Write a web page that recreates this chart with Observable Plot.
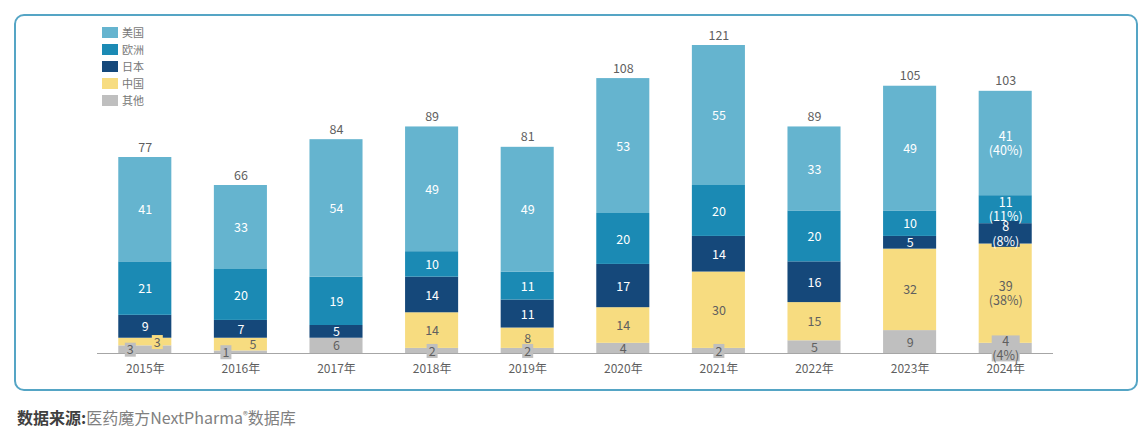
<!DOCTYPE html>
<html><head><meta charset="utf-8">
<script src="https://cdn.jsdelivr.net/npm/d3@7"></script>
<script src="https://cdn.jsdelivr.net/npm/@observablehq/plot@0.6"></script>
<style>
body{margin:0;background:#fff;font-family:"Noto Sans CJK SC","Noto Sans",sans-serif;}
#wrap{position:relative;width:1147px;height:432px;overflow:hidden;}
#frame{position:absolute;left:14px;top:14px;width:1120px;height:373px;border:2px solid #55a5c5;border-radius:10px;box-sizing:content-box;}
#chart{position:absolute;left:0;top:0;}
#legend{position:absolute;left:102px;top:24px;font-size:11px;color:#777;line-height:1;}
.row{height:17.1px;display:flex;align-items:center;}
.sw{width:16px;height:11px;margin-right:4px;flex:none;}
#caption{position:absolute;left:17px;top:405px;font-size:16px;color:#808080;white-space:nowrap;}
#caption b{color:#404040;font-weight:bold;}
#caption .reg{font-size:10px;vertical-align:5px;}
</style></head>
<body>
<div id="wrap">
  <div id="frame"></div>
  <div id="chart"></div>
  <div id="legend"></div>
  <div id="caption"><b>数据来源:</b>医药魔方NextPharma<span class="reg">®</span>数据库</div>
</div>
<script>
const years = ["2015年","2016年","2017年","2018年","2019年","2020年","2021年","2022年","2023年","2024年"];
const us    = [41, 33, 54, 49, 49, 53, 55, 33, 49, 41];
const eu    = [21, 20, 19, 10, 11, 20, 20, 20, 10, 11];
const jp    = [ 9,  7,  5, 14, 11, 17, 14, 16,  5,  8];
const cn    = [ 3,  5,  0, 14,  8, 14, 30, 15, 32, 39];
const other = [ 3,  1,  6,  2,  2,  4,  2,  5,  9,  4];
const totals = [77, 66, 84, 89, 81, 108, 121, 89, 105, 103];
const regions = ["其他","中国","日本","欧洲","美国"]; // bottom to top
const legendOrder = ["美国","欧洲","日本","中国","其他"];

const palette = {"美国":"#65b4cf","欧洲":"#1b8ab4","日本":"#15487a","中国":"#f7dc80","其他":"#bfbfbf"};
const lightText = new Set(["美国","欧洲","日本"]);

const series = {"美国":us,"欧洲":eu,"日本":jp,"中国":cn,"其他":other};
const rows = [];
years.forEach((yr, i) => {
  let acc = 0;
  const last = i === years.length - 1;
  const pairSmall = other[i] <= 3 && cn[i] > 0 && cn[i] <= 5;
  for (const r of regions) {
    const v = series[r][i];
    const pct = Math.round(v / totals[i] * 100);
    const row = {year: yr, region: r, value: v, y1: acc, y2: acc + v, mid: acc + v / 2,
      label: last ? `${v}\n(${pct}%)` : `${v}`, last,
      shift: pairSmall && r === "其他" ? -1 : pairSmall && r === "中国" ? 1 : 0};
    row.boxed = v > 0 && (last ? v < 10 : v <= 3);
    rows.push(row);
    acc += v;
  }
});
const shown = rows.filter(d => d.value > 0);
const totalRows = years.map((y, i) => ({year: y, total: totals[i]}));

const rectSymbol = (w, h) => ({draw(ctx) { ctx.rect(-w / 2, -h / 2, w, h); }});
const smallBox = rectSymbol(11, 14);
const bigBox = rectSymbol(28, 26);

const color = {domain: regions, range: regions.map(r => palette[r])};
const fontSize = 12.5;

const labelMarks = [];
for (const [shift, dx] of [[0, 0], [-1, -15], [1, 12]]) {
  const sub = shown.filter(d => d.shift === shift);
  labelMarks.push(
    Plot.dot(sub.filter(d => d.boxed && !d.last), {x: "year", y: "mid", fill: "region", symbol: smallBox, r: 5, dx, stroke: null}),
    Plot.dot(sub.filter(d => d.boxed && d.last), {x: "year", y: "mid", fill: "region", symbol: bigBox, r: 5, dx, stroke: null}),
    Plot.text(sub.filter(d => lightText.has(d.region)), {x: "year", y: "mid", text: "label", fill: "#ffffff", fontSize, dx, lineHeight: 1.15}),
    Plot.text(sub.filter(d => !lightText.has(d.region)), {x: "year", y: "mid", text: "label", fill: "#5f5f5f", fontSize, dx, lineHeight: 1.15})
  );
}

const chart = Plot.plot({
  width: 1147,
  height: 390,
  marginLeft: 97,
  marginRight: 94,
  marginTop: 45,
  marginBottom: 37,
  style: {fontFamily: '"Noto Sans CJK SC","Noto Sans",sans-serif', background: "transparent"},
  x: {type: "band", domain: years, paddingInner: 0.445, paddingOuter: 0.2225, round: false, label: null},
  y: {domain: [0, 121], axis: null},
  color,
  marks: [
    Plot.barY(rows, {x: "year", y1: "y1", y2: "y2", fill: "region"}),
    Plot.ruleY([0], {stroke: "#a6a6a6", strokeWidth: 1}),
    ...labelMarks,
    Plot.text(totalRows, {x: "year", y: "total", text: d => `${d.total}`, dy: -10, fill: "#5f5f5f", fontSize}),
    Plot.axisX({tickSize: 0, tickPadding: 11, fontSize: 12, color: "#5f5f5f", label: null})
  ]
});
document.getElementById("chart").appendChild(chart);

const legend = document.getElementById("legend");
for (const r of legendOrder) {
  const row = document.createElement("div");
  row.className = "row";
  const sw = document.createElement("div");
  sw.className = "sw";
  sw.style.background = palette[r];
  const t = document.createElement("span");
  t.textContent = r;
  row.appendChild(sw);
  row.appendChild(t);
  legend.appendChild(row);
}
</script>
</body></html>
